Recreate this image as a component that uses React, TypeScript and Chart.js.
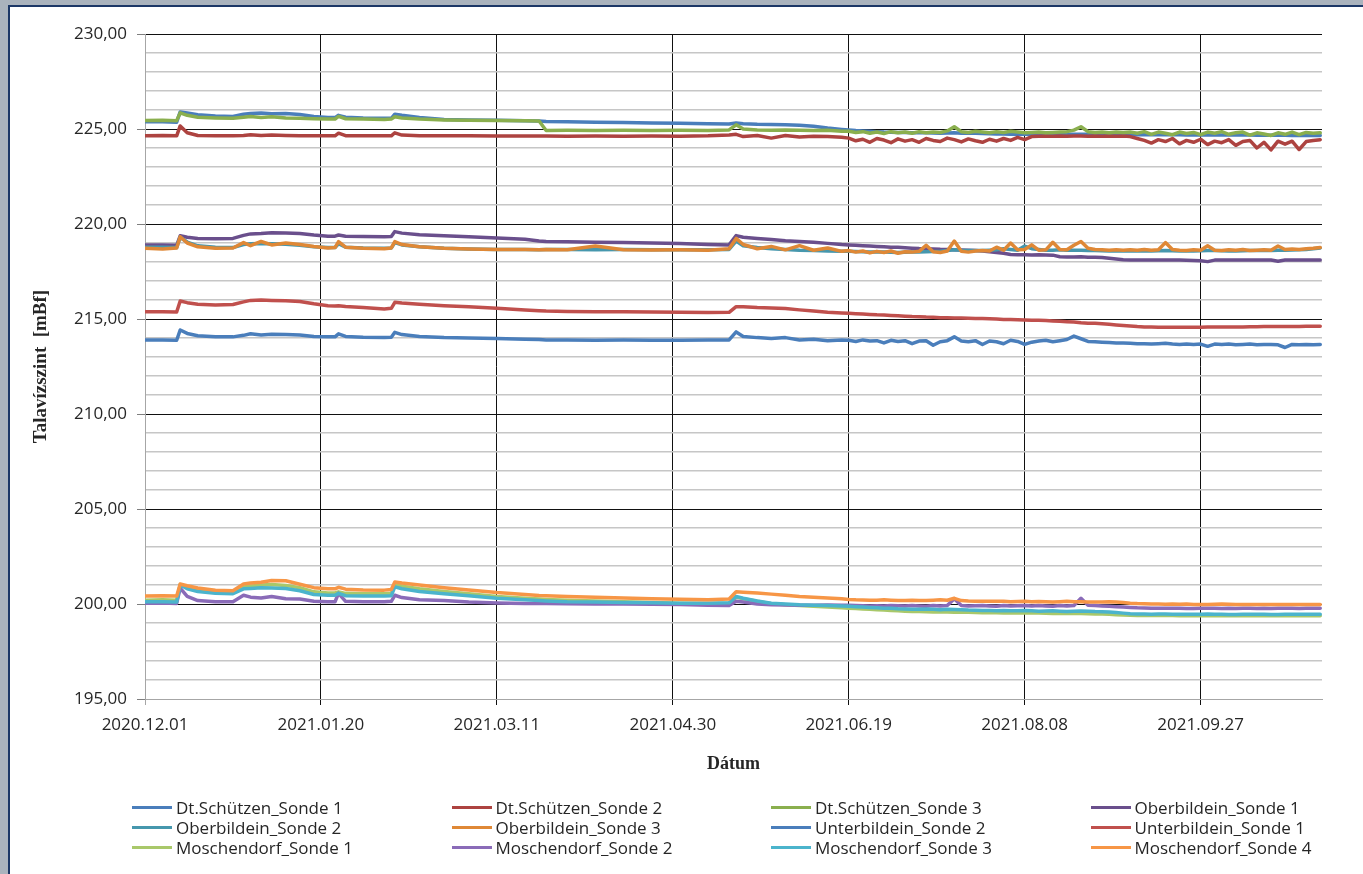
import React, { useEffect, useRef } from 'react';
import { Chart, registerables } from 'chart.js';

Chart.register(...registerables);

// days since 2020.12.01
const days = [
  0, 5, 9, 10, 12, 15, 20, 25, 28, 30,
  33, 36, 40, 44, 48, 52, 54, 55, 57, 62,
  68, 70, 71, 73, 78, 85, 92, 100, 108, 112,
  114, 120, 128, 136, 144, 152, 160, 166, 168, 170,
  174, 178, 182, 186, 190, 194, 198,
  200, 202, 204, 206, 208, 210, 212, 214, 216, 218,
  220, 222, 224, 226, 228, 230, 232, 234, 236, 238,
  240, 242, 244, 246, 248, 250, 252, 254, 256, 258,
  260, 262, 264, 266, 268, 270, 272, 274, 276, 278,
  280, 282, 284, 286, 288, 290, 292, 294, 296, 298,
  300, 302, 304, 306, 308, 310, 312, 314, 316, 318,
  320, 322, 324, 326, 328, 330, 332, 334,
];

const xTickLabels = ['2020.12.01', '2021.01.20', '2021.03.11', '2021.04.30', '2021.06.19', '2021.08.08', '2021.09.27'];
const yTickLabels = ['195,00', '200,00', '205,00', '210,00', '215,00', '220,00', '225,00', '230,00'];

const dtSchuetzen1 = [
  225.38, 225.38, 225.36, 225.90, 225.84, 225.75, 225.68, 225.66, 225.78, 225.82,
  225.84, 225.80, 225.82, 225.76, 225.66, 225.60, 225.60, 225.72, 225.62, 225.58,
  225.56, 225.56, 225.78, 225.72, 225.60, 225.50, 225.47, 225.46, 225.44, 225.42,
  225.40, 225.38, 225.36, 225.34, 225.32, 225.30, 225.28, 225.26, 225.32, 225.28,
  225.25, 225.24, 225.22, 225.20, 225.14, 225.05, 224.98,
  224.95, 224.92, 224.90, 224.88, 224.86, 224.84, 224.83, 224.82, 224.81, 224.80,
  224.80, 224.80, 224.79, 224.78, 224.79, 224.80, 224.78, 224.78, 224.77, 224.76,
  224.75, 224.74, 224.74, 224.73, 224.73, 224.73, 224.72, 224.72, 224.72, 224.72,
  224.72, 224.72, 224.72, 224.72, 224.72, 224.72, 224.71, 224.71, 224.71, 224.71,
  224.70, 224.70, 224.70, 224.70, 224.70, 224.70, 224.70, 224.70, 224.69, 224.69,
  224.69, 224.69, 224.68, 224.68, 224.68, 224.68, 224.68, 224.68, 224.67, 224.67,
  224.67, 224.67, 224.67, 224.66, 224.66, 224.66, 224.66, 224.66,
];
const dtSchuetzen2 = [
  224.65, 224.66, 224.64, 225.16, 224.80, 224.66, 224.64, 224.64, 224.66, 224.70,
  224.66, 224.68, 224.66, 224.65, 224.64, 224.64, 224.64, 224.78, 224.65, 224.64,
  224.64, 224.64, 224.80, 224.68, 224.65, 224.64, 224.64, 224.63, 224.63, 224.63,
  224.63, 224.62, 224.63, 224.62, 224.63, 224.62, 224.64, 224.68, 224.72, 224.60,
  224.66, 224.52, 224.66, 224.58, 224.62, 224.60, 224.56,
  224.52, 224.38, 224.46, 224.30, 224.50, 224.42, 224.28, 224.48, 224.36, 224.44,
  224.30, 224.50, 224.40, 224.34, 224.52, 224.44, 224.32, 224.48, 224.38, 224.30,
  224.46, 224.36, 224.50, 224.40, 224.56, 224.44, 224.60, 224.62, 224.63, 224.62,
  224.63, 224.62, 224.63, 224.63, 224.62, 224.63, 224.62, 224.63, 224.62, 224.63,
  224.60, 224.50, 224.40, 224.26, 224.44, 224.34, 224.50, 224.22, 224.40, 224.30,
  224.46, 224.18, 224.36, 224.28, 224.44, 224.14, 224.34, 224.40, 224.00, 224.30,
  223.90, 224.36, 224.20, 224.36, 223.92, 224.34, 224.40, 224.44,
];
const dtSchuetzen3 = [
  225.45, 225.46, 225.44, 225.85, 225.72, 225.62, 225.58, 225.56, 225.62, 225.66,
  225.60, 225.64, 225.58, 225.56, 225.54, 225.52, 225.52, 225.66, 225.54, 225.52,
  225.50, 225.52, 225.64, 225.58, 225.52, 225.48, 225.46, 225.45, 225.44, 225.42,
  224.92, 224.93, 224.92, 224.93, 224.92, 224.93, 224.92, 224.95, 225.22, 225.00,
  224.95, 224.94, 224.95, 224.93, 224.92, 224.94, 224.88,
  224.88, 224.82, 224.86, 224.78, 224.84, 224.76, 224.86, 224.80, 224.84, 224.78,
  224.86, 224.80, 224.84, 224.82, 224.90, 225.12, 224.86, 224.82, 224.88, 224.84,
  224.80, 224.86, 224.82, 224.88, 224.84, 224.80, 224.82, 224.84, 224.80, 224.82,
  224.84, 224.86, 224.94, 225.12, 224.86, 224.82, 224.84, 224.80, 224.84, 224.82,
  224.84, 224.78, 224.86, 224.72, 224.84, 224.78, 224.70, 224.84, 224.76, 224.82,
  224.70, 224.84, 224.78, 224.86, 224.72, 224.80, 224.84, 224.68, 224.80, 224.74,
  224.66, 224.80, 224.72, 224.84, 224.70, 224.82, 224.78, 224.80,
];
const oberbildein1 = [
  218.89, 218.90, 218.88, 219.38, 219.30, 219.24, 219.22, 219.24, 219.40, 219.48,
  219.50, 219.54, 219.52, 219.50, 219.42, 219.36, 219.36, 219.42, 219.36, 219.34,
  219.33, 219.34, 219.60, 219.52, 219.44, 219.38, 219.33, 219.26, 219.20, 219.10,
  219.08, 219.06, 219.04, 219.02, 219.00, 218.97, 218.92, 218.90, 219.39, 219.30,
  219.24, 219.18, 219.12, 219.08, 219.04, 218.98, 218.92,
  218.90, 218.88, 218.86, 218.84, 218.82, 218.80, 218.78, 218.77, 218.75, 218.73,
  218.71, 218.70, 218.69, 218.67, 218.66, 218.64, 218.63, 218.62, 218.60, 218.58,
  218.54, 218.50, 218.46, 218.40, 218.38, 218.38, 218.37, 218.38, 218.37, 218.36,
  218.28, 218.26, 218.26, 218.27, 218.25, 218.25, 218.24, 218.20, 218.16, 218.12,
  218.10, 218.10, 218.10, 218.10, 218.10, 218.10, 218.10, 218.10, 218.09, 218.08,
  218.06, 218.02, 218.10, 218.10, 218.10, 218.10, 218.10, 218.10, 218.10, 218.10,
  218.10, 218.04, 218.10, 218.10, 218.10, 218.10, 218.10, 218.10,
];
const oberbildein2 = [
  218.78, 218.78, 218.76, 219.30, 219.05, 218.85, 218.78, 218.76, 218.92, 218.96,
  218.98, 218.96, 218.94, 218.88, 218.80, 218.76, 218.76, 218.96, 218.78, 218.74,
  218.72, 218.74, 219.02, 218.90, 218.80, 218.72, 218.68, 218.66, 218.66, 218.65,
  218.66, 218.66, 218.65, 218.66, 218.65, 218.64, 218.65, 218.66, 219.10, 218.86,
  218.76, 218.70, 218.66, 218.62, 218.60, 218.58, 218.56,
  218.56, 218.55, 218.54, 218.53, 218.52, 218.52, 218.51, 218.50, 218.51, 218.52,
  218.53, 218.54, 218.55, 218.56, 218.60, 218.64, 218.62, 218.61, 218.60, 218.60,
  218.62, 218.64, 218.70, 218.66, 218.62, 218.84, 218.70, 218.66, 218.62, 218.62,
  218.64, 218.62, 218.62, 218.62, 218.61, 218.60, 218.59, 218.58, 218.58, 218.58,
  218.58, 218.58, 218.58, 218.58, 218.59, 218.60, 218.59, 218.58, 218.58, 218.58,
  218.59, 218.60, 218.60, 218.59, 218.58, 218.58, 218.59, 218.60, 218.60, 218.60,
  218.61, 218.62, 218.62, 218.63, 218.64, 218.66, 218.70, 218.74,
];
const oberbildein3 = [
  218.72, 218.68, 218.74, 219.33, 219.00, 218.80, 218.72, 218.74, 219.02, 218.86,
  219.08, 218.90, 219.00, 218.92, 218.82, 218.74, 218.76, 219.07, 218.78, 218.72,
  218.70, 218.74, 219.07, 218.92, 218.80, 218.72, 218.68, 218.66, 218.66, 218.64,
  218.66, 218.64, 218.84, 218.64, 218.63, 218.64, 218.62, 218.70, 219.24, 218.92,
  218.70, 218.82, 218.64, 218.86, 218.62, 218.74, 218.56,
  218.60, 218.52, 218.58, 218.48, 218.56, 218.50, 218.58, 218.46, 218.54, 218.52,
  218.56, 218.88, 218.54, 218.50, 218.58, 219.10, 218.56, 218.52, 218.58, 218.60,
  218.58, 218.78, 218.62, 219.00, 218.64, 218.66, 218.90, 218.62, 218.64, 219.04,
  218.66, 218.64, 218.88, 219.08, 218.72, 218.66, 218.64, 218.62, 218.64, 218.62,
  218.64, 218.62, 218.66, 218.62, 218.64, 219.02, 218.66, 218.62, 218.60, 218.64,
  218.62, 218.86, 218.62, 218.60, 218.64, 218.62, 218.66, 218.60, 218.62, 218.64,
  218.62, 218.84, 218.66, 218.68, 218.66, 218.70, 218.72, 218.76,
];
const unterbildein2 = [
  213.89, 213.90, 213.88, 214.42, 214.24, 214.12, 214.07, 214.06, 214.14, 214.22,
  214.16, 214.20, 214.18, 214.16, 214.08, 214.06, 214.06, 214.22, 214.08, 214.04,
  214.03, 214.04, 214.30, 214.18, 214.08, 214.02, 214.00, 213.97, 213.94, 213.92,
  213.90, 213.89, 213.88, 213.89, 213.88, 213.88, 213.89, 213.90, 214.32, 214.08,
  214.02, 213.98, 214.02, 213.90, 213.94, 213.86, 213.90,
  213.88, 213.82, 213.90, 213.84, 213.86, 213.74, 213.88, 213.82, 213.86, 213.70,
  213.84, 213.86, 213.62, 213.80, 213.86, 214.06, 213.84, 213.80, 213.86, 213.66,
  213.84, 213.80, 213.70, 213.88, 213.82, 213.66, 213.78, 213.84, 213.88, 213.80,
  213.86, 213.92, 214.10, 213.96, 213.82, 213.80, 213.78, 213.76, 213.74, 213.74,
  213.72, 213.70, 213.70, 213.68, 213.70, 213.72, 213.68, 213.66, 213.68, 213.66,
  213.68, 213.56, 213.68, 213.66, 213.68, 213.64, 213.66, 213.68, 213.64, 213.66,
  213.66, 213.64, 213.50, 213.66, 213.64, 213.66, 213.64, 213.66,
];
const unterbildein1 = [
  215.38, 215.38, 215.37, 215.95, 215.86, 215.78, 215.74, 215.76, 215.90, 215.98,
  216.00, 215.98, 215.96, 215.92, 215.80, 215.70, 215.68, 215.70, 215.66, 215.60,
  215.53, 215.56, 215.88, 215.84, 215.78, 215.70, 215.64, 215.56, 215.48, 215.44,
  215.42, 215.40, 215.38, 215.38, 215.37, 215.36, 215.34, 215.35, 215.65, 215.64,
  215.60, 215.58, 215.55, 215.48, 215.42, 215.36, 215.32,
  215.30, 215.28, 215.26, 215.24, 215.22, 215.21, 215.19, 215.17, 215.15, 215.13,
  215.12, 215.10, 215.09, 215.07, 215.06, 215.05, 215.05, 215.04, 215.03, 215.02,
  215.01, 215.00, 214.98, 214.97, 214.96, 214.95, 214.94, 214.93, 214.92, 214.90,
  214.88, 214.86, 214.84, 214.80, 214.78, 214.77, 214.75, 214.72, 214.69, 214.66,
  214.63, 214.60, 214.58, 214.58, 214.57, 214.56, 214.56, 214.56, 214.56, 214.57,
  214.57, 214.58, 214.58, 214.58, 214.58, 214.58, 214.58, 214.59, 214.59, 214.60,
  214.60, 214.60, 214.60, 214.60, 214.61, 214.62, 214.62, 214.62,
];
const moschendorf1 = [
  200.20, 200.22, 200.20, 201.02, 200.86, 200.74, 200.64, 200.62, 200.90, 200.94,
  201.00, 201.02, 200.98, 200.86, 200.64, 200.58, 200.58, 200.64, 200.56, 200.54,
  200.54, 200.56, 201.02, 200.94, 200.80, 200.66, 200.54, 200.40, 200.30, 200.26,
  200.24, 200.20, 200.16, 200.12, 200.08, 200.04, 200.02, 200.04, 200.36, 200.28,
  200.14, 200.02, 199.96, 199.92, 199.88, 199.84, 199.80,
  199.78, 199.76, 199.74, 199.72, 199.70, 199.68, 199.66, 199.64, 199.62, 199.61,
  199.60, 199.59, 199.58, 199.58, 199.58, 199.57, 199.56, 199.56, 199.55, 199.54,
  199.54, 199.54, 199.53, 199.52, 199.52, 199.52, 199.52, 199.52, 199.51, 199.50,
  199.50, 199.50, 199.50, 199.50, 199.49, 199.48, 199.47, 199.46, 199.44, 199.42,
  199.41, 199.40, 199.40, 199.39, 199.39, 199.39, 199.39, 199.38, 199.38, 199.38,
  199.38, 199.38, 199.38, 199.38, 199.38, 199.38, 199.38, 199.38, 199.38, 199.38,
  199.38, 199.38, 199.38, 199.38, 199.38, 199.38, 199.38, 199.38,
];
const moschendorf2 = [
  200.04, 200.05, 200.03, 200.83, 200.40, 200.18, 200.12, 200.12, 200.46, 200.36,
  200.32, 200.40, 200.28, 200.26, 200.14, 200.12, 200.12, 200.56, 200.14, 200.12,
  200.12, 200.14, 200.46, 200.34, 200.22, 200.18, 200.10, 200.05, 200.03, 200.02,
  200.02, 200.01, 200.00, 200.00, 199.99, 199.98, 199.94, 199.92, 200.14, 200.10,
  200.00, 199.96, 199.95, 199.94, 199.94, 199.95, 199.94,
  199.93, 199.92, 199.91, 199.90, 199.91, 199.90, 199.92, 199.91, 199.90, 199.92,
  199.90, 199.88, 199.92, 199.90, 199.92, 200.28, 199.92, 199.90, 199.91, 199.92,
  199.90, 199.88, 199.92, 199.90, 199.91, 199.92, 199.90, 199.92, 199.90, 199.88,
  199.92, 199.90, 199.92, 200.30, 199.94, 199.92, 199.90, 199.88, 199.86, 199.84,
  199.82, 199.80, 199.79, 199.78, 199.77, 199.77, 199.78, 199.77, 199.76, 199.76,
  199.77, 199.78, 199.77, 199.76, 199.77, 199.76, 199.78, 199.77, 199.76, 199.77,
  199.76, 199.77, 199.78, 199.77, 199.76, 199.77, 199.78, 199.78,
];
const moschendorf3 = [
  200.12, 200.12, 200.10, 201.00, 200.80, 200.66, 200.56, 200.54, 200.80, 200.82,
  200.86, 200.84, 200.82, 200.70, 200.50, 200.46, 200.46, 200.56, 200.44, 200.42,
  200.42, 200.44, 200.90, 200.80, 200.66, 200.54, 200.44, 200.30, 200.22, 200.18,
  200.16, 200.12, 200.10, 200.08, 200.06, 200.04, 200.04, 200.06, 200.40, 200.30,
  200.16, 200.04, 200.00, 199.96, 199.94, 199.92, 199.90,
  199.88, 199.86, 199.84, 199.82, 199.80, 199.78, 199.77, 199.75, 199.74, 199.73,
  199.72, 199.74, 199.72, 199.70, 199.72, 199.71, 199.70, 199.68, 199.67, 199.66,
  199.66, 199.65, 199.66, 199.64, 199.65, 199.66, 199.64, 199.62, 199.63, 199.64,
  199.62, 199.60, 199.62, 199.63, 199.62, 199.60, 199.59, 199.58, 199.55, 199.52,
  199.49, 199.48, 199.47, 199.46, 199.47, 199.47, 199.46, 199.46, 199.46, 199.46,
  199.46, 199.47, 199.46, 199.46, 199.45, 199.45, 199.46, 199.46, 199.46, 199.46,
  199.45, 199.45, 199.46, 199.46, 199.46, 199.46, 199.46, 199.46,
];
const moschendorf4 = [
  200.42, 200.44, 200.42, 201.05, 200.96, 200.84, 200.72, 200.70, 201.05, 201.10,
  201.14, 201.24, 201.22, 201.04, 200.86, 200.80, 200.80, 200.88, 200.78, 200.74,
  200.73, 200.76, 201.16, 201.10, 201.00, 200.86, 200.74, 200.60, 200.50, 200.45,
  200.44, 200.40, 200.36, 200.32, 200.28, 200.25, 200.22, 200.26, 200.64, 200.62,
  200.58, 200.52, 200.46, 200.40, 200.36, 200.32, 200.28,
  200.24, 200.22, 200.21, 200.20, 200.20, 200.22, 200.20, 200.18, 200.19, 200.20,
  200.18, 200.18, 200.20, 200.22, 200.20, 200.30, 200.18, 200.16, 200.15, 200.14,
  200.15, 200.15, 200.14, 200.12, 200.13, 200.14, 200.12, 200.13, 200.12, 200.10,
  200.12, 200.14, 200.12, 200.12, 200.11, 200.10, 200.11, 200.12, 200.10, 200.08,
  200.04, 200.02, 200.01, 200.00, 200.00, 199.99, 200.00, 199.99, 200.00, 199.98,
  199.98, 199.98, 199.99, 200.00, 199.99, 199.98, 199.98, 199.97, 199.98, 199.97,
  199.98, 199.98, 199.97, 199.98, 199.97, 199.98, 199.98, 199.98,
];

const seriesNames = [
  'Dt.Schützen_Sonde 1', 'Dt.Schützen_Sonde 2', 'Dt.Schützen_Sonde 3', 'Oberbildein_Sonde 1',
  'Oberbildein_Sonde 2', 'Oberbildein_Sonde 3', 'Unterbildein_Sonde 2', 'Unterbildein_Sonde 1',
  'Moschendorf_Sonde 1', 'Moschendorf_Sonde 2', 'Moschendorf_Sonde 3', 'Moschendorf_Sonde 4',
];
const seriesValues = [
  dtSchuetzen1, dtSchuetzen2, dtSchuetzen3, oberbildein1,
  oberbildein2, oberbildein3, unterbildein2, unterbildein1,
  moschendorf1, moschendorf2, moschendorf3, moschendorf4,
];
const seriesColors = [
  '#4a7ebb', '#ad4340', '#8aaf4e', '#6a4f8c',
  '#4697ad', '#df8836', '#4a7ebb', '#c0504d',
  '#a9c86a', '#8a6bb8', '#4bb4cc', '#f79646',
];

const TEXT = '#262626';

export default function App() {
  const canvasRef = useRef<HTMLCanvasElement | null>(null);

  useEffect(() => {
    const canvas = canvasRef.current;
    if (!canvas) return;
    const datasets = seriesNames.map((name, i) => ({
      label: name,
      data: seriesValues[i].map((v, j) => ({ x: days[j], y: v })),
      borderColor: seriesColors[i],
      backgroundColor: seriesColors[i],
      borderWidth: 3.5,
      pointRadius: 0,
      tension: 0,
      fill: false,
      borderJoinStyle: 'round' as const,
      borderCapStyle: 'round' as const,
      order: seriesNames.length - 1 - i,
    }));

    const chart = new Chart(canvas, {
      type: 'line',
      data: { datasets },
      options: {
        animation: false,
        responsive: false,
        events: [],
        layout: { padding: { left: 0, top: 34, right: 41, bottom: 95 } },
        plugins: {
          legend: { display: false },
          tooltip: { enabled: false },
        },
        scales: {
          x: {
            type: 'linear',
            min: 0,
            max: 334.5,
            afterFit: (s: any) => { s.height = 80; },
            border: { display: true, color: '#a6a6a6', width: 1 },
            grid: {
              color: (c: any) => (c.tick && c.tick.value === 0 ? '#a6a6a6' : '#111111'),
              lineWidth: 1,
              drawTicks: true,
              tickLength: 6,
            },
            ticks: {
              stepSize: 50,
              autoSkip: false,
              includeBounds: false,
              maxRotation: 0,
              padding: 10,
              color: TEXT,
              font: { family: 'Open Sans', size: 17 },
              callback: (v: any) => (Number(v) % 50 === 0 ? xTickLabels[Number(v) / 50] : ''),
            },
            title: {
              display: true,
              text: 'Dátum',
              color: TEXT,
              font: { family: 'Liberation Serif', size: 18, weight: 'bold' },
              padding: { top: 0, bottom: 4 },
            },
          },
          y: {
            type: 'linear',
            min: 195,
            max: 230,
            afterFit: (s: any) => { s.width = 145; },
            border: { display: true, color: '#a6a6a6', width: 1 },
            grid: {
              color: (c: any) => {
                const v = c.tick ? c.tick.value : 0;
                if (v === 195) return '#a6a6a6';
                return v % 5 === 0 ? '#111111' : '#c6c6c6';
              },
              lineWidth: (c: any) => {
                const v = c.tick ? c.tick.value : 0;
                return v % 5 === 0 ? 1 : 1.6;
              },
              tickColor: (c: any) => {
                const v = c.tick ? c.tick.value : 0;
                return v % 5 === 0 ? '#7f7f7f' : 'rgba(0,0,0,0)';
              },
              drawTicks: true,
              tickLength: 8,
            },
            ticks: {
              stepSize: 1,
              autoSkip: false,
              padding: 10,
              color: TEXT,
              font: { family: 'Open Sans', size: 17 },
              callback: (v: any) => (Number(v) % 5 === 0 ? yTickLabels[(Number(v) - 195) / 5] : ''),
            },
            title: {
              display: true,
              text: 'Talavízszint  [mBf]',
              color: TEXT,
              font: { family: 'Liberation Serif', size: 19, weight: 'bold' },
              padding: { top: 30, bottom: 0 },
            },
          },
        },
      },
    });
    return () => chart.destroy();
  }, []);

  return (
    <div style={{ position: 'fixed', left: 0, top: 0, width: 1363, height: 874, background: '#aab3bd', overflow: 'hidden' }}>
      <div
        style={{
          position: 'absolute',
          left: 8,
          top: 5,
          width: 1370,
          height: 880,
          background: '#ffffff',
          border: '2px solid #1c3766',
          boxSizing: 'border-box',
        }}
      />
      <canvas ref={canvasRef} width={1363} height={874} style={{ position: 'absolute', left: 0, top: 0, width: 1363, height: 874 }} />
      {seriesNames.map((name, i) => (
        <div
          key={name}
          style={{
            position: 'absolute',
            left: 132 + (i % 4) * 319.5,
            top: 797 + Math.floor(i / 4) * 20,
            height: 20,
            display: 'flex',
            alignItems: 'center',
            fontFamily: 'Open Sans',
            fontSize: 17,
            color: TEXT,
            whiteSpace: 'nowrap',
          }}
        >
          <span style={{ display: 'inline-block', width: 40, height: 3, background: seriesColors[i], marginRight: 4 }} />
          <span>{name}</span>
        </div>
      ))}
    </div>
  );
}
